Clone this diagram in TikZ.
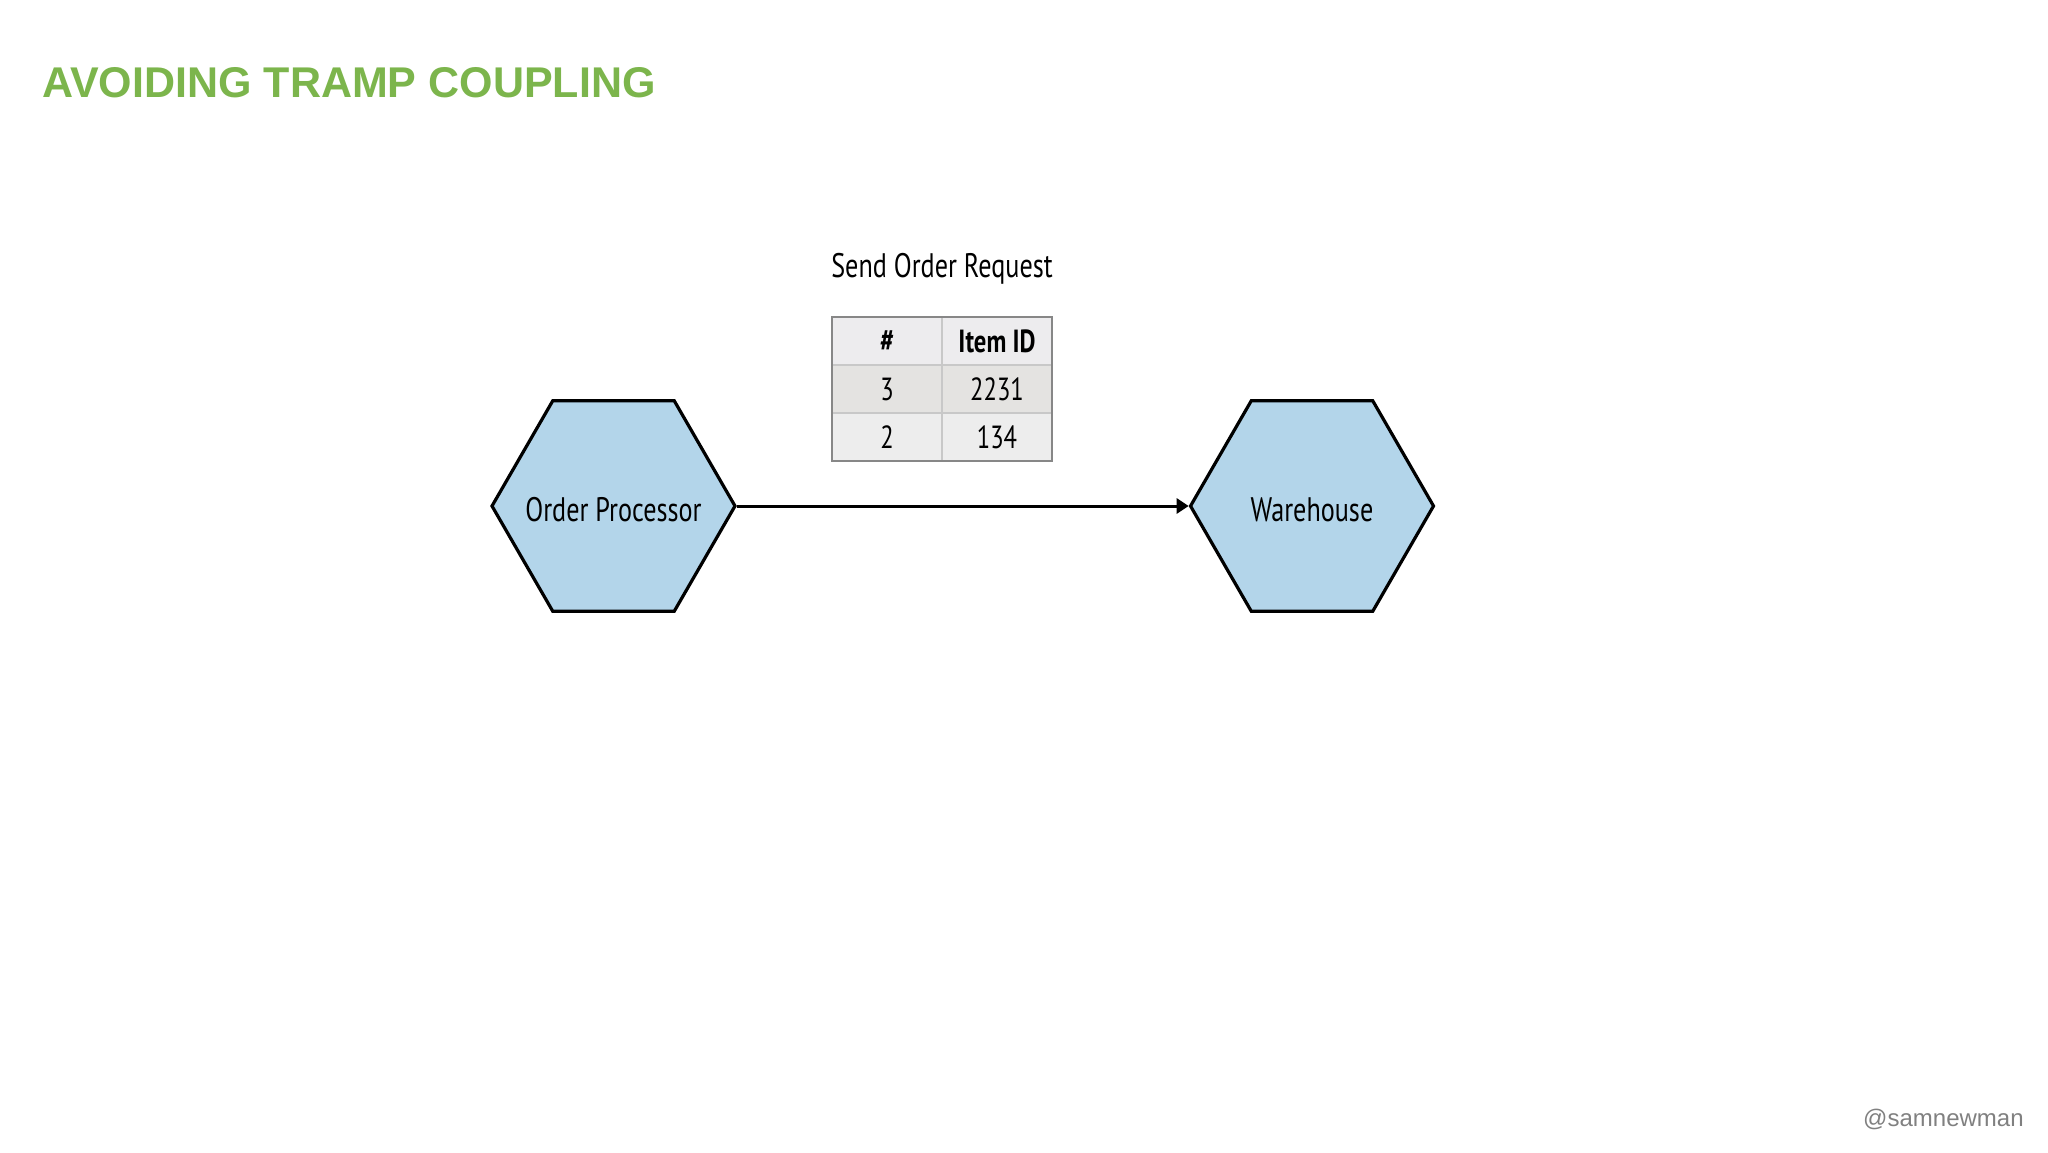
\documentclass[tikz,border=0pt]{standalone}
\usepackage{fontspec}
\setmainfont{Liberation Sans}
\newfontfamily\condfont[FakeStretch=0.77]{PT Sans}
\usepackage{tikz}
\usetikzlibrary{positioning}
\usetikzlibrary{shapes.geometric}
\usetikzlibrary{arrows.meta}
\usepackage{xcolor}

\definecolor{titlegreen}{RGB}{124,181,76}
\definecolor{hexblue}{RGB}{179,213,234}
\definecolor{headfill}{RGB}{237,236,238}
\definecolor{rowfilla}{RGB}{228,227,225}
\definecolor{rowfillb}{RGB}{237,237,237}
\definecolor{cellline}{RGB}{200,200,200}
\definecolor{tableframe}{RGB}{135,135,135}
\definecolor{handlegray}{RGB}{128,128,128}

\tikzset{
  hexa/.style={regular polygon, regular polygon sides=6,
    minimum size=121.5pt, inner sep=0pt, draw, line width=1.6pt, fill=hexblue,
    label={[font=\condfont\fontsize{17}{20}\selectfont, yshift=-2pt]center:#1}},
  cell/.style={draw=cellline, line width=0.6pt, minimum width=55pt, minimum height=24pt,
    inner sep=0pt, outer sep=0pt, font=\condfont\fontsize{16}{18}\selectfont},
  msg/.style={inner sep=0pt, font=\condfont\fontsize{17}{20}\selectfont},
  flow/.style={-{Triangle[length=6pt,width=7.5pt]}, line width=1.5pt}
}

\begin{document}
\begin{tikzpicture}[x=0.5pt,y=-0.5pt,node distance=0pt]
   \useasboundingbox (0,0) rectangle (2048,1152);

   \node[anchor=base west, inner sep=0pt, text=titlegreen,
     font=\bfseries\fontsize{21.5}{24}\selectfont] (title) at (42,97) {AVOIDING TRAMP COUPLING};

   % services
   \node[hexa={Order Processor}] (op) at (613.5,506) {};
   \node[hexa={Warehouse}] (wh) at (1312,506) {};

   % request payload
   \node[msg] (req) at (942,269) {Send Order Request};
   \node[cell, fill=headfill, font=\condfont\bfseries\fontsize{16}{18}\selectfont] (hnum) at (887,341) {\#};
   \node[cell, fill=headfill, font=\condfont\bfseries\fontsize{16}{18}\selectfont] (hid) [right=of hnum] {Item ID};
   \node[cell, fill=rowfilla] (ranum) [below=of hnum] {3};
   \node[cell, fill=rowfilla] (raid) [right=of ranum] {2231};
   \node[cell, fill=rowfillb] (rbnum) [below=of ranum] {2};
   \node[cell, fill=rowfillb] (rbid) [right=of rbnum] {134};
   \draw[tableframe, line width=0.8pt] (hnum.north west) rectangle (rbid.south east);

   \draw[flow] (op) -- (wh);

   \node[anchor=base east, inner sep=0pt, text=handlegray,
     font=\fontsize{12}{14}\selectfont] (handle) at (2024,1126) {@samnewman};
\end{tikzpicture}
\end{document}
